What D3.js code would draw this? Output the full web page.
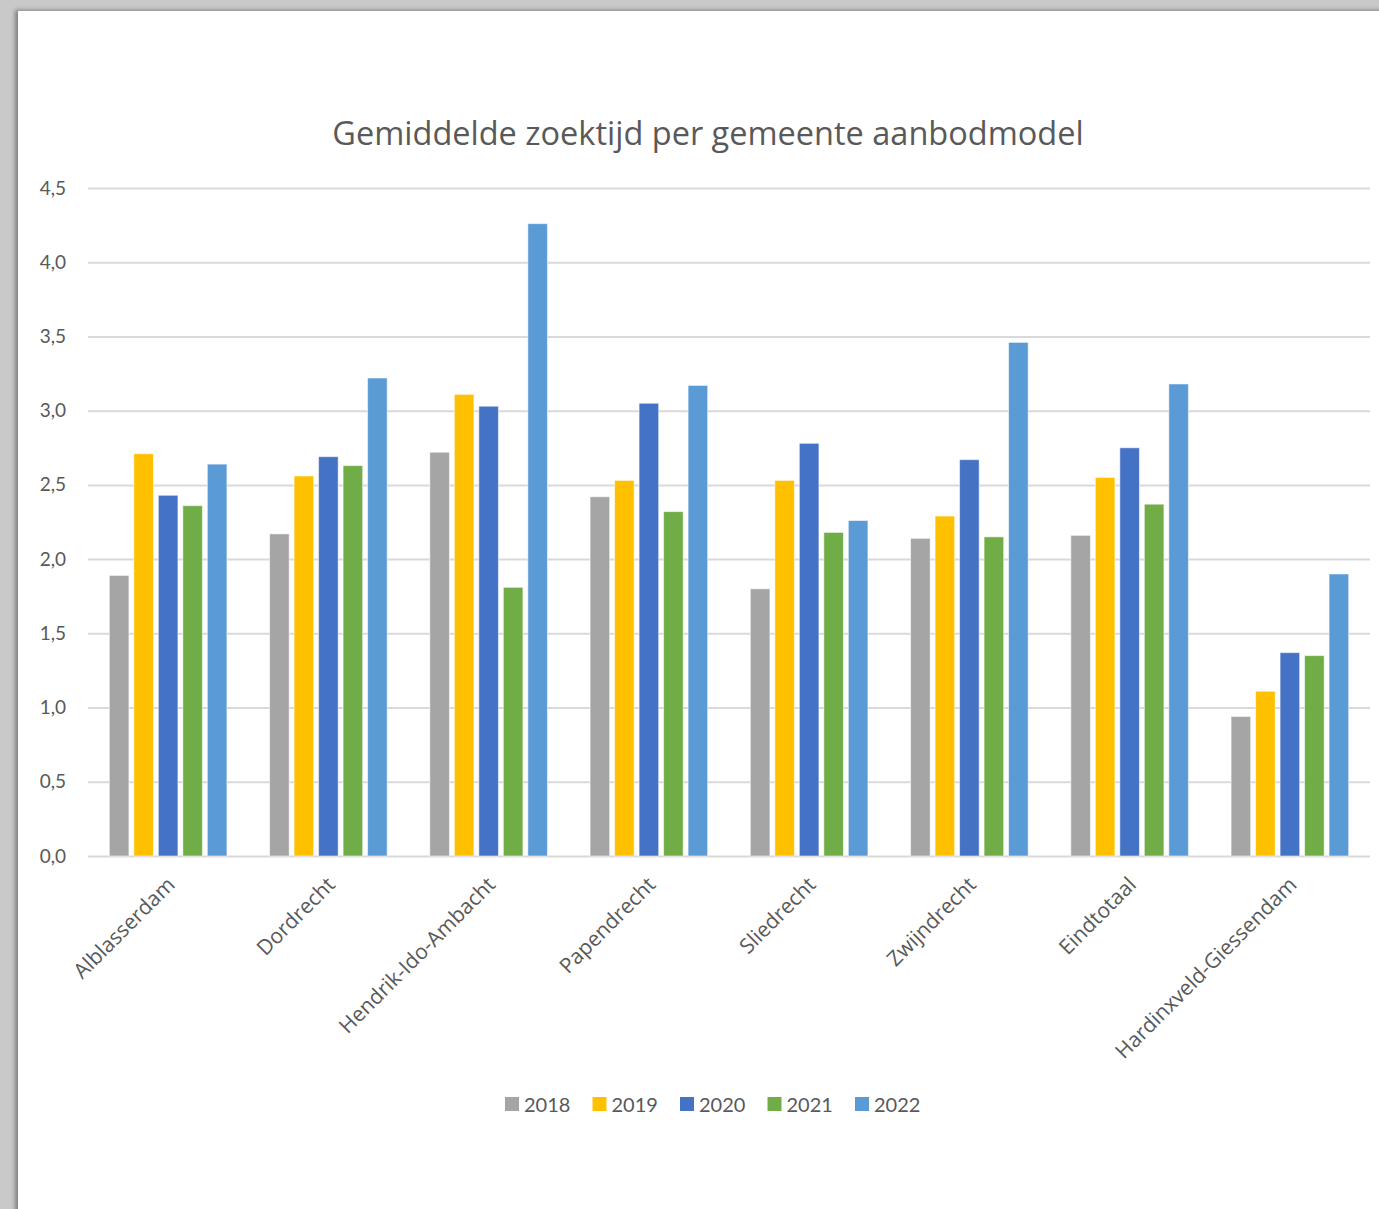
<!DOCTYPE html>
<html>
<head>
<meta charset="utf-8">
<script src="https://cdn.jsdelivr.net/npm/d3@7"></script>
<style>
  html, body { margin: 0; padding: 0; }
  body { width: 1379px; height: 1209px; background: #c8c9c8; overflow: hidden; position: relative; }
  #sheet {
    position: absolute; left: 18px; top: 11px; width: 1400px; height: 1220px;
    background: #ffffff;
    box-shadow: -3px -1px 4px rgba(0,0,0,0.35);
  }
  svg { position: absolute; left: 0; top: 0; }
  text { font-family: Lato, "Open Sans", sans-serif; fill: #595959; }
</style>
</head>
<body>
<div id="sheet"></div>
<script>
// Municipalities on the x axis
const categories = ["Alblasserdam", "Dordrecht", "Hendrik-Ido-Ambacht", "Papendrecht",
  "Sliedrecht", "Zwijndrecht", "Eindtotaal", "Hardinxveld-Giessendam"];

// Average search time per year, one array per year
const years = ["2018", "2019", "2020", "2021", "2022"];
const v2018 = [1.89, 2.17, 2.72, 2.42, 1.80, 2.14, 2.16, 0.94];
const v2019 = [2.71, 2.56, 3.11, 2.53, 2.53, 2.29, 2.55, 1.11];
const v2020 = [2.43, 2.69, 3.03, 3.05, 2.78, 2.67, 2.75, 1.37];
const v2021 = [2.36, 2.63, 1.81, 2.32, 2.18, 2.15, 2.37, 1.35];
const v2022 = [2.64, 3.22, 4.26, 3.17, 2.26, 3.46, 3.18, 1.90];
const seriesValues = [v2018, v2019, v2020, v2021, v2022];
const colors = ["#a5a5a5", "#ffc000", "#4472c4", "#70ad47", "#5b9bd5"];

const yTicks = [0, 0.5, 1, 1.5, 2, 2.5, 3, 3.5, 4, 4.5];
const title = "Gemiddelde zoektijd per gemeente aanbodmodel";

const W = 1379, H = 1209;
const svg = d3.select("body").append("svg").attr("width", W).attr("height", H);

const plot = { left: 88, right: 1370, top: 188, bottom: 856 };

const y = d3.scaleLinear().domain([0, 4.5]).range([plot.bottom, plot.top]);
const x0 = d3.scaleBand().domain(categories).range([plot.left, plot.right])
  .paddingInner(0.2356).paddingOuter(0.1178);
const x1 = d3.scaleBand().domain(years).range([0, x0.bandwidth()])
  .paddingInner(0.2).paddingOuter(0.1);
const fmt = v => d3.format(".1f")(v).replace(".", ",");

// Title
svg.append("text")
  .attr("x", 708).attr("y", 145)
  .attr("text-anchor", "middle")
  .style("font-family", "'Open Sans', sans-serif")
  .style("font-size", "32.5px")
  .text(title);

// Gridlines and value axis
const yAxis = d3.axisLeft(y).tickValues(yTicks).tickFormat(fmt)
  .tickSize(-(plot.right - plot.left)).tickPadding(22);
const gy = svg.append("g").attr("transform", `translate(${plot.left},0)`).call(yAxis);
gy.select(".domain").remove();
gy.selectAll(".tick line").attr("stroke", "#d9d9d9").attr("stroke-width", 2);
gy.selectAll(".tick text").style("font-size", "19px").attr("fill", "#595959")
  .attr("font-family", "Lato, 'Open Sans', sans-serif");

// Bars
const rows = categories.map((c, i) => ({ cat: c, vals: years.map((yr, j) => ({ yr, v: seriesValues[j][i], j })) }));
const groups = svg.append("g").selectAll("g").data(rows).join("g")
  .attr("transform", d => `translate(${x0(d.cat)},0)`);
groups.selectAll("rect").data(d => d.vals).join("rect")
  .attr("x", d => x1(d.yr))
  .attr("width", x1.bandwidth())
  .attr("y", d => y(d.v))
  .attr("height", d => y(0) - y(d.v))
  .attr("fill", d => colors[d.j])
  .attr("stroke", "rgba(255,255,255,0.55)")
  .attr("stroke-width", 1);

// Category axis labels, rotated
const xAxis = d3.axisBottom(x0).tickSize(0).tickPadding(0);
const gx = svg.append("g").attr("transform", `translate(0,${plot.bottom})`).call(xAxis);
gx.select(".domain").remove();
gx.selectAll(".tick text")
  .style("font-size", "21px")
  .style("font-family", "'Open Sans', sans-serif")
  .attr("fill", "#595959")
  .attr("text-anchor", "end")
  .attr("dy", null)
  .attr("transform", "translate(8,30) rotate(-45)");

// Legend
const legendItems = years.map((yr, j) => ({ yr, color: colors[j] }));
const itemW = 87.5;
const legend = svg.append("g").attr("transform", `translate(505,1097)`);
const li = legend.selectAll("g").data(legendItems).join("g")
  .attr("transform", (d, i) => `translate(${i * itemW},0)`);
li.append("rect").attr("width", 14).attr("height", 14).attr("fill", d => d.color);
li.append("text").attr("x", 19).attr("y", 14.5)
  .style("font-size", "20px").text(d => d.yr);
</script>
</body>
</html>
